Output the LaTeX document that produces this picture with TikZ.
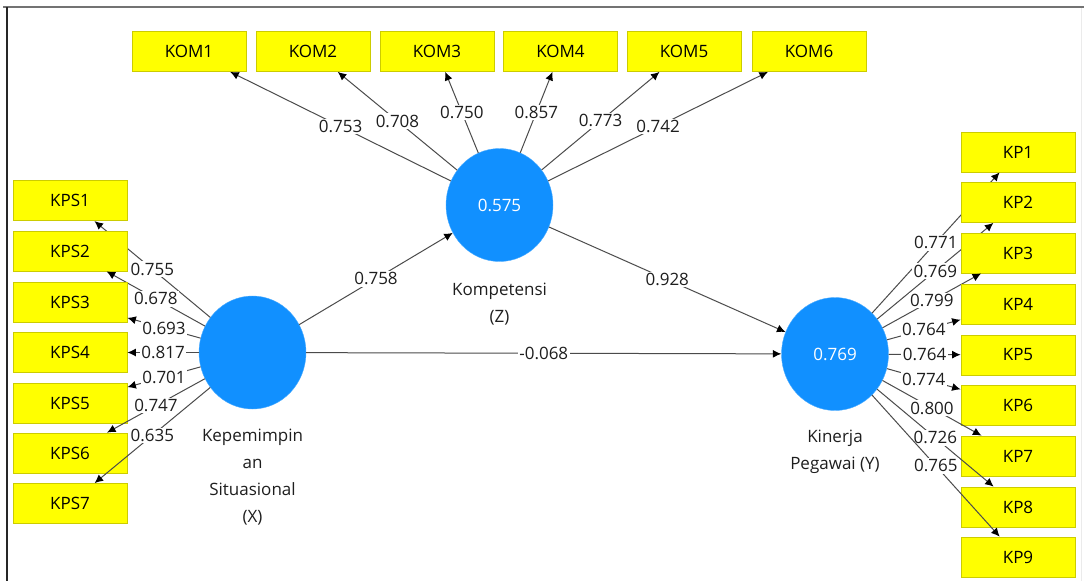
\documentclass[tikz,border=0pt]{standalone}
\usepackage{fontspec}
\setmainfont{Open Sans}
\usetikzlibrary{shapes.geometric,arrows.meta}
\definecolor{plsblue}{RGB}{17,144,255}
\definecolor{plsyellow}{RGB}{255,255,0}
\definecolor{linegray}{RGB}{75,75,75}
\definecolor{textgray}{RGB}{30,30,30}
\newcommand{\plsfont}{\fontsize{17}{27}\selectfont}

\begin{document}
\begin{tikzpicture}[x=1pt, y=-1pt,
    indicator/.style={rectangle, fill=plsyellow, draw=plsyellow!80!black, line width=0.8pt,
      minimum width=114pt, minimum height=40pt, inner sep=0pt, font=\plsfont, text=black},
    latent/.style={ellipse, fill=plsblue, draw=plsblue!75!white, minimum width=107pt,
      minimum height=113pt, inner sep=0pt, font=\plsfont, text=white},
    latentname/.style={align=center, font=\plsfont, text=textgray},
    coef/.style={fill=white, inner sep=1.5pt, font=\plsfont, text=textgray},
    loading/.style={draw=linegray, line width=1pt, arrows={Latex[black,length=8.5pt,width=8pt]-}},
    structural/.style={draw=linegray, line width=1pt, arrows={-Latex[black,length=8.5pt,width=8pt]}}]
      \useasboundingbox (0,0) rectangle (1084,581);
      % frame of the screenshot
      \draw[black!55, line width=2pt] (3,7) -- (1084,7);
      \draw[black!85, line width=1.4pt] (7,7) -- (7,581);
      \draw[black!8] (1081,8) -- (1081,581);
      % latent variables
      \node[latent] (x) at (252.5, 352.5) {};
      \node[latentname] (xname) at (252.5, 477) {Kepemimpin\\an\\Situasional\\(X)};
      \node[latent] (z) at (499.5, 205) {0.575};
      \node[latentname] (zname) at (499.5, 304) {Kompetensi\\(Z)};
      \node[latent] (y) at (835, 354) {0.769};
      \node[latentname] (yname) at (835, 451.5) {Kinerja\\Pegawai (Y)};
      \draw[structural] (x) -- node[coef] {0.758} (z);
      \draw[structural] (z) -- node[coef] {0.928} (y);
      \draw[structural] (x) -- node[coef] {-0.068} (y);
      % indicators of Z
      \node[indicator] (kom1) at (189, 51.5) {KOM1} edge[loading] node[coef] {0.753} (z);
      \node[indicator] (kom2) at (313, 51.5) {KOM2} edge[loading] node[coef] {0.708} (z);
      \node[indicator] (kom3) at (437, 51.5) {KOM3} edge[loading] node[coef] {0.750} (z);
      \node[indicator] (kom4) at (560.5, 51.5) {KOM4} edge[loading] node[coef] {0.857} (z);
      \node[indicator] (kom5) at (684, 51.5) {KOM5} edge[loading] node[coef] {0.773} (z);
      \node[indicator] (kom6) at (809, 51.5) {KOM6} edge[loading] node[coef] {0.742} (z);
      % indicators of X
      \node[indicator] (kps1) at (70, 200.7) {KPS1} edge[loading] node[coef] {0.755} (x);
      \node[indicator] (kps2) at (70, 251) {KPS2} edge[loading] node[coef] {0.678} (x);
      \node[indicator] (kps3) at (70, 302) {KPS3} edge[loading] node[coef] {0.693} (x);
      \node[indicator] (kps4) at (70, 352.5) {KPS4} edge[loading] node[coef] {0.817} (x);
      \node[indicator] (kps5) at (70, 403) {KPS5} edge[loading] node[coef] {0.701} (x);
      \node[indicator] (kps6) at (70, 453) {KPS6} edge[loading] node[coef] {0.747} (x);
      \node[indicator] (kps7) at (70, 503.5) {KPS7} edge[loading] node[coef] {0.635} (x);
      % indicators of Y
      \node[indicator] (kp1) at (1018, 152) {KP1} edge[loading] node[coef] {0.771} (y);
      \node[indicator] (kp2) at (1018, 202.5) {KP2} edge[loading] node[coef] {0.769} (y);
      \node[indicator] (kp3) at (1018, 253) {KP3} edge[loading] node[coef] {0.799} (y);
      \node[indicator] (kp4) at (1018, 304) {KP4} edge[loading] node[coef] {0.764} (y);
      \node[indicator] (kp5) at (1018, 355) {KP5} edge[loading] node[coef] {0.764} (y);
      \node[indicator] (kp6) at (1018, 405.5) {KP6} edge[loading] node[coef] {0.774} (y);
      \node[indicator] (kp7) at (1018, 456) {KP7} edge[loading] node[coef] {0.800} (y);
      \node[indicator] (kp8) at (1018, 507) {KP8} edge[loading] node[coef] {0.726} (y);
      \node[indicator] (kp9) at (1018, 557) {KP9} edge[loading] node[coef] {0.765} (y);
    \end{tikzpicture}
\end{document}
